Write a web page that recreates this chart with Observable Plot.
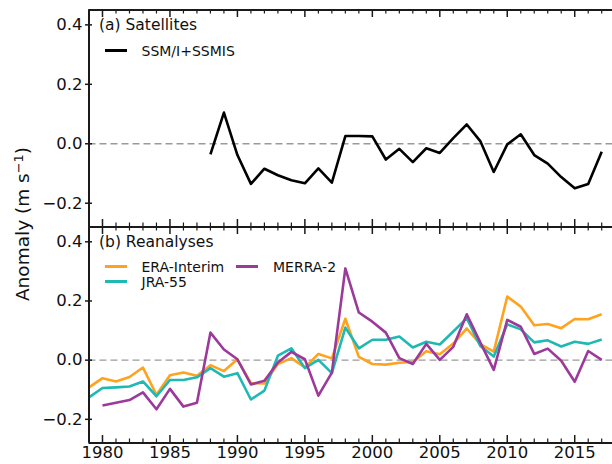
<!DOCTYPE html>
<html>
<head>
<meta charset="utf-8">
<script src="https://cdn.jsdelivr.net/npm/d3@7"></script>
<script src="https://cdn.jsdelivr.net/npm/@observablehq/plot@0.6"></script>
<style>
  html, body { margin: 0; padding: 0; background: white; overflow: hidden; }
  #wrap { position: relative; width: 612px; height: 464px; font-family: "DejaVu Sans", sans-serif; color: #111; }
  #wrap svg { position: absolute; left: 0; top: 0; }
  #wrap svg text { font-family: "DejaVu Sans", sans-serif !important; font-size: 16.5px !important; fill: #111; }
  .lbl { position: absolute; white-space: nowrap; line-height: 1; }
  .sw { position: absolute; height: 3px; }
</style>
</head>
<body>
<div id="wrap"></div>
<script>
// ---- data ----
const satYears = [1988,1989,1990,1991,1992,1993,1994,1995,1996,1997,1998,1999,2000,2001,2002,2003,2004,2005,2006,2007,2008,2009,2010,2011,2012,2013,2014,2015,2016,2017];
const satValues = [-0.036,0.105,-0.038,-0.135,-0.084,-0.106,-0.123,-0.133,-0.083,-0.131,0.026,0.026,0.025,-0.053,-0.017,-0.062,-0.015,-0.031,0.019,0.065,0.009,-0.095,-0.002,0.032,-0.038,-0.067,-0.112,-0.150,-0.135,-0.027];

const reYears = [1979,1980,1981,1982,1983,1984,1985,1986,1987,1988,1989,1990,1991,1992,1993,1994,1995,1996,1997,1998,1999,2000,2001,2002,2003,2004,2005,2006,2007,2008,2009,2010,2011,2012,2013,2014,2015,2016,2017];
const eraValues = [-0.092,-0.061,-0.072,-0.057,-0.025,-0.117,-0.051,-0.042,-0.053,-0.017,-0.037,0.003,-0.078,-0.079,-0.013,0.007,-0.025,0.021,0.006,0.140,0.011,-0.013,-0.015,-0.009,-0.006,0.030,0.020,0.056,0.107,0.054,0.029,0.215,0.181,0.118,0.122,0.108,0.139,0.138,0.155];
const jraValues = [-0.126,-0.094,-0.092,-0.089,-0.072,-0.122,-0.067,-0.067,-0.058,-0.027,-0.056,-0.044,-0.133,-0.103,0.015,0.040,-0.027,0.001,-0.044,0.110,0.040,0.069,0.069,0.080,0.043,0.062,0.053,0.097,0.142,0.048,0.012,0.121,0.104,0.060,0.067,0.046,0.062,0.055,0.070];
const merraYears = [1980,1981,1982,1983,1984,1985,1986,1987,1988,1989,1990,1991,1992,1993,1994,1995,1996,1997,1998,1999,2000,2001,2002,2003,2004,2005,2006,2007,2008,2009,2010,2011,2012,2013,2014,2015,2016,2017];
const merraValues = [-0.153,-0.144,-0.135,-0.109,-0.166,-0.097,-0.157,-0.144,0.093,0.036,0.003,-0.082,-0.070,-0.008,0.028,0.003,-0.120,-0.042,0.310,0.161,0.130,0.093,0.007,-0.013,0.055,0.001,0.045,0.155,0.060,-0.033,0.136,0.113,0.021,0.039,-0.002,-0.073,0.031,0.001];

const yTicks = [-0.2, 0.0, 0.2, 0.4];
const xMajorTicks = [1980,1985,1990,1995,2000,2005,2010,2015];
const xMinorTicks = [1979,1981,1982,1983,1984,1986,1987,1988,1989,1991,1992,1993,1994,1996,1997,1998,1999,2001,2002,2003,2004,2006,2007,2008,2009,2011,2012,2013,2014,2016,2017];

const xDomain = [1979, 2017.8];
const yDomain = [-0.28, 0.45];

const colors = { sat: "#000000", era: "#FFA31F", jra: "#1FB8B3", merra: "#9B3A9A" };

const sat = satYears.map((y, i) => ({year: y, value: satValues[i]}));
const era = reYears.map((y, i) => ({year: y, value: eraValues[i]}));
const jra = reYears.map((y, i) => ({year: y, value: jraValues[i]}));
const merra = merraYears.map((y, i) => ({year: y, value: merraValues[i]}));

const W = 612, H = 464, ML = 88.5;
const axisColor = "#1a1a1a";
const fmt = d3.format(".1f");
const tickFont = 16.5;

function panel({marginTop, marginBottom, lines, showX}) {
  const h = H - marginTop - marginBottom;
  return Plot.plot({
    width: W, height: H,
    marginLeft: ML, marginRight: 0, marginTop, marginBottom,
    x: {domain: xDomain, axis: null},
    y: {domain: yDomain, axis: null},
    style: {background: "transparent", fontFamily: "DejaVu Sans", fontSize: tickFont + "px", color: "#111", overflow: "visible"},
    marks: [
      Plot.ruleY([0], {stroke: "#9a9a9a", strokeWidth: 1.3, strokeDasharray: "7,4"}),
      ...lines.map(l => Plot.line(l.data, {x: "year", y: "value", stroke: l.color, strokeWidth: l.width, strokeLinejoin: "round", strokeLinecap: "butt"})),
      Plot.axisY({ticks: yTicks, tickSize: 7, dx: 3.5, tickPadding: 3, tickFormat: fmt, label: null, stroke: axisColor, strokeWidth: 1.5, fontSize: tickFont}),
      Plot.tickX(xMajorTicks, {x: d => d, insetTop: h - 7.5, stroke: axisColor, strokeWidth: 1.5}),
      Plot.tickX(xMajorTicks, {x: d => d, insetBottom: h - 7.5, stroke: axisColor, strokeWidth: 1.5}),
      Plot.tickX(xMinorTicks, {x: d => d, insetTop: h - 4, stroke: axisColor, strokeWidth: 1.2}),
      Plot.tickX(xMinorTicks, {x: d => d, insetBottom: h - 4, stroke: axisColor, strokeWidth: 1.2}),
      Plot.ruleX([xDomain[0]], {stroke: axisColor, strokeWidth: 2}),
      Plot.ruleY([yDomain[0]], {stroke: axisColor, strokeWidth: 2}),
      Plot.ruleY([yDomain[1]], {stroke: axisColor, strokeWidth: 2}),
      showX ? Plot.axisX({ticks: xMajorTicks, tickSize: 0, tickPadding: 3, tickFormat: d => String(d), label: null, fontSize: tickFont}) : null
    ]
  });
}

const wrap = document.getElementById("wrap");
wrap.appendChild(panel({marginTop: 9.5, marginBottom: 237.5, lines: [{data: sat, color: colors.sat, width: 2.6}], showX: false}));
wrap.appendChild(panel({marginTop: 226.5, marginBottom: 21.5, lines: [
  {data: era, color: colors.era, width: 2.6},
  {data: jra, color: colors.jra, width: 2.6},
  {data: merra, color: colors.merra, width: 2.6}
], showX: true}));

// ---- labels & legends ----
function label(text, x, yc, size, html) {
  const d = document.createElement("div");
  d.className = "lbl";
  if (html) d.innerHTML = text; else d.textContent = text;
  d.style.left = x + "px";
  d.style.top = yc + "px";
  d.style.fontSize = size + "px";
  d.style.transform = "translateY(-50%)";
  wrap.appendChild(d);
}
function swatch(color, x1, x2, y, w) {
  const d = document.createElement("div");
  d.className = "sw";
  d.style.left = x1 + "px";
  d.style.width = (x2 - x1) + "px";
  d.style.top = (y - w / 2) + "px";
  d.style.height = w + "px";
  d.style.background = color;
  wrap.appendChild(d);
}
label("(a) Satellites", 99, 26, 15.5);
swatch(colors.sat, 105, 127, 50, 3);
label("SSM/I+SSMIS", 141.5, 50.5, 14);

label("(b) Reanalyses", 99, 243, 15.5);
swatch(colors.era, 105, 127, 266, 3);
label("ERA-Interim", 141.5, 266.5, 14);
swatch(colors.jra, 105, 127, 281.5, 3);
label("JRA-55", 141.5, 282, 14);
swatch(colors.merra, 236, 258, 266, 3);
label("MERRA-2", 273, 266.5, 14);

// y-axis title
const yt = document.createElement("div");
yt.className = "lbl";
yt.innerHTML = 'Anomaly (m s<span style="font-size:0.7em;position:relative;top:-0.5em">\u22121</span>)';
yt.style.fontSize = "18.5px";
yt.style.left = "23px";
yt.style.top = "224px";
yt.style.transform = "translate(-50%,-50%) rotate(-90deg)";
wrap.appendChild(yt);
</script>
</body>
</html>
